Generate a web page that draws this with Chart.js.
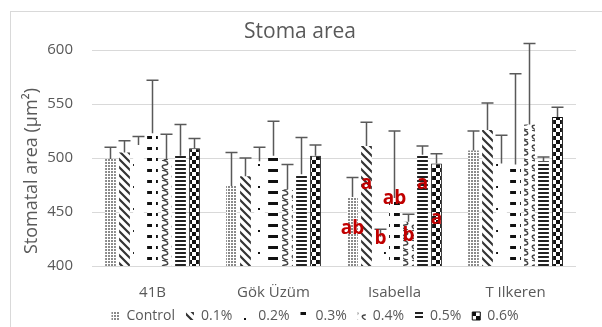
<!DOCTYPE html>
<html>
<head>
<meta charset="utf-8">
<script src="https://cdn.jsdelivr.net/npm/chart.js@4/dist/chart.umd.min.js"></script>
<style>
  html, body { margin: 0; padding: 0; background: #ffffff; overflow: hidden; }
  #wrap { position: relative; width: 602px; height: 327px; overflow: hidden; }
  #frame { position: absolute; left: 10px; top: 11px; width: 640px; height: 360px; border: 1px solid #d9d9d9; }
  #chart { position: absolute; left: 0; top: 0; }
</style>
</head>
<body>
<div id="wrap">
  <div id="frame"></div>
  <canvas id="chart" width="602" height="333"></canvas>
</div>
<script>
// categories and series
var cultivars = ["41B", "Gök Üzüm", "Isabella", "T Ilkeren"];
var doses = ["Control", "0.1%", "0.2%", "0.3%", "0.4%", "0.5%", "0.6%"];

var areaControl = [499, 474, 464, 507];
var area01 = [505, 483, 511, 526];
var area02 = [512, 497, 427, 495];
var area03 = [523, 502, 463, 494];
var area04 = [499, 471, 441, 531];
var area05 = [502, 485, 503, 497];
var area06 = [509, 502, 495, 538];

// error bars (+)
var errControl = [11, 31, 18, 18];
var err01 = [11, 17, 22, 25];
var err02 = [8, 13, 7, 26];
var err03 = [49, 32, 62, 84];
var err04 = [23, 23, 7, 75];
var err05 = [29, 34, 8, 4];
var err06 = [9, 10, 9, 9];

// significance letters for Isabella, value = text baseline
var isabellaLetters = ["ab", "a", "b", "ab", "b", "a", "a"];
var isabellaLetterY = [430, 471, 420, 457, 423, 471, 439];

var yTicks = [400, 450, 500, 550, 600];

var ctx = document.getElementById('chart').getContext('2d');

function makePattern(w, h, draw)
{
  var c = document.createElement('canvas');
  c.width = w;
  c.height = h;
  var g = c.getContext('2d');
  g.fillStyle = '#ffffff';
  g.fillRect(0, 0, w, h);
  draw(g);
  return ctx.createPattern(c, 'repeat');
}

var patControl = makePattern(3, 3, function(g) {
  g.fillStyle = '#8a8a8a';
  g.fillRect(0, 0, 2, 2);
});
var pat01 = makePattern(8, 8, function(g) {
  g.strokeStyle = '#333333';
  g.lineWidth = 2.2;
  g.beginPath();
  for (var k = -8; k <= 8; k += 8) {
    g.moveTo(k - 1, -1);
    g.lineTo(k + 9, 9);
  }
  g.stroke();
});
var pat02 = makePattern(14, 22, function(g) {
  g.fillStyle = '#111111';
  g.fillRect(6, 10, 2, 2);
});
var pat03 = makePattern(14, 11, function(g) {
  g.fillStyle = '#111111';
  g.fillRect(2, 4, 10, 3);
});
var pat04 = makePattern(10, 10, function(g) {
  g.strokeStyle = '#444444';
  g.lineWidth = 1.5;
  g.beginPath();
  g.moveTo(2, 0);
  g.bezierCurveTo(9, 1, 9, 5, 5, 5);
  g.bezierCurveTo(1, 5, 1, 9, 8, 10);
  g.stroke();
});
var pat05 = makePattern(4, 4, function(g) {
  g.fillStyle = '#222222';
  g.fillRect(0, 0, 4, 2);
});
var pat06 = makePattern(8, 8, function(g) {
  g.fillStyle = '#111111';
  g.fillRect(0, 0, 4, 4);
  g.fillRect(4, 4, 4, 4);
});

var seriesData = [areaControl, area01, area02, area03, area04, area05, area06];
var seriesErr = [errControl, err01, err02, err03, err04, err05, err06];
var seriesFill = [patControl, pat01, pat02, pat03, pat04, pat05, pat06];

var datasets = doses.map(function(name, i) {
  return {
    label: name,
    data: seriesData[i],
    errors: seriesErr[i],
    backgroundColor: seriesFill[i],
    borderColor: '#111111',
    borderWidth: i == 6 ? 1 : 0,
    categoryPercentage: 0.81,
    barPercentage: 0.77
  };
});

var textGray = '#595959';

var errorBarPlugin = {
  id: 'errorBars',
  afterDatasetsDraw: function(chart) {
    var c = chart.ctx;
    var yScale = chart.scales.y;
    c.save();
    c.strokeStyle = textGray;
    c.lineWidth = 1.5;
    chart.data.datasets.forEach(function(ds, i) {
      var meta = chart.getDatasetMeta(i);
      meta.data.forEach(function(bar, j) {
        var top = yScale.getPixelForValue(ds.data[j] + ds.errors[j]);
        c.beginPath();
        c.moveTo(bar.x, bar.y);
        c.lineTo(bar.x, top);
        c.moveTo(bar.x - 6, top);
        c.lineTo(bar.x + 6, top);
        c.stroke();
      });
    });
    c.restore();
  }
};

var lettersPlugin = {
  id: 'letters',
  afterDatasetsDraw: function(chart) {
    var c = chart.ctx;
    var yScale = chart.scales.y;
    c.save();
    c.fillStyle = '#c00000';
    c.font = 'bold 19px "Open Sans"';
    c.textAlign = 'center';
    c.textBaseline = 'alphabetic';
    isabellaLetters.forEach(function(txt, i) {
      var bar = chart.getDatasetMeta(i).data[2];
      c.fillText(txt, bar.x, yScale.getPixelForValue(isabellaLetterY[i]));
    });
    c.restore();
  }
};

// titles drawn by hand so they can sit off the legend's centre
var titlesPlugin = {
  id: 'titles',
  afterDraw: function(chart) {
    var c = chart.ctx;
    c.save();
    c.fillStyle = textGray;
    c.textAlign = 'center';
    c.textBaseline = 'middle';
    c.font = '21px "Open Sans"';
    c.fillText('Stoma area', 300, 32);
    c.translate(32, 171);
    c.rotate(-Math.PI / 2);
    c.font = '18px "Open Sans"';
    c.fillText('Stomatal area (μm²)', 0, 0);
    c.restore();
  }
};

var chart = new Chart(ctx, {
  type: 'bar',
  data: {
    labels: cultivars,
    datasets: datasets
  },
  options: {
    responsive: false,
    animation: false,
    layout: { padding: { top: 50, left: 28, right: 0, bottom: 0 } },
    plugins: {
      title: { display: false },
      tooltip: { enabled: false },
      legend: {
        position: 'bottom',
        labels: {
          boxWidth: 8,
          boxHeight: 8,
          padding: 11,
          color: textGray,
          font: { family: 'Open Sans', size: 14 }
        }
      }
    },
    scales: {
      x: {
        grid: { display: false },
        border: { display: false },
        ticks: { color: textGray, padding: 10, font: { family: 'Open Sans', size: 15 } },
        afterFit: function(scale) { scale.height = 32; }
      },
      y: {
        min: 400,
        max: 600,
        afterBuildTicks: function(scale) {
          scale.ticks = yTicks.map(function(v) { return { value: v }; });
        },
        grid: { color: '#d9d9d9', lineWidth: 1, drawTicks: false },
        border: { display: false },
        ticks: { color: textGray, padding: 19, font: { family: 'Open Sans', size: 15 } },
        afterFit: function(scale) { scale.width = 64; }
      },
      // empty right axis, only keeps the plot clear of the right edge
      yRight: {
        position: 'right',
        min: 400,
        max: 600,
        grid: { display: false },
        border: { display: false },
        ticks: { display: false },
        afterFit: function(scale) { scale.width = 26; }
      }
    }
  },
  plugins: [errorBarPlugin, lettersPlugin, titlesPlugin]
});
</script>
</body>
</html>
